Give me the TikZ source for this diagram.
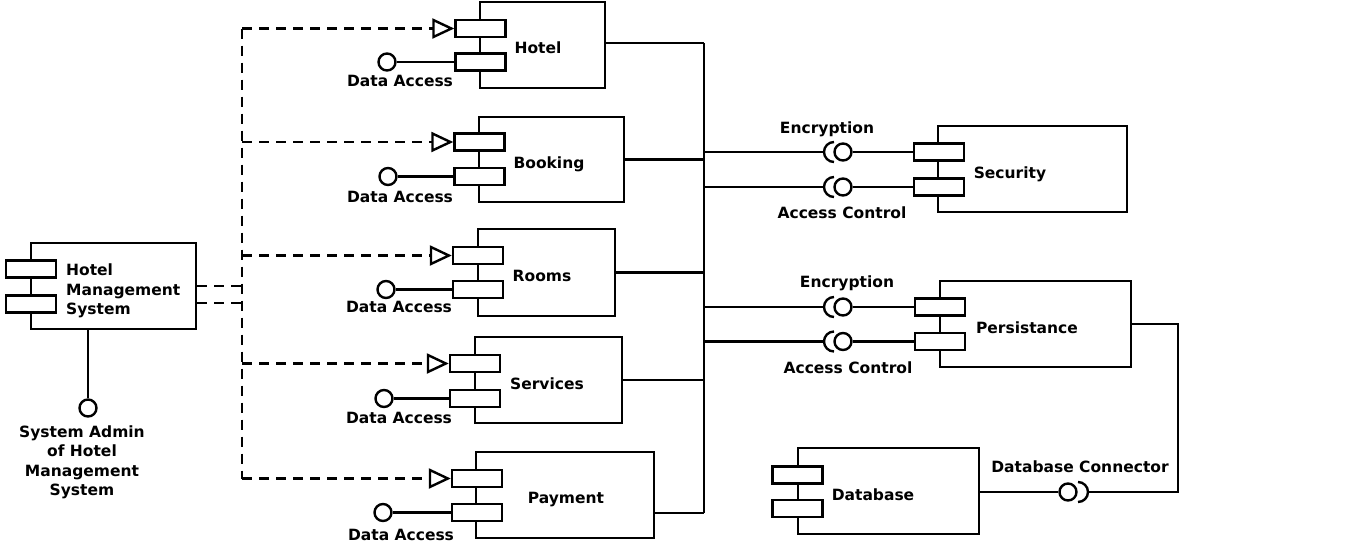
\documentclass[tikz,border=0pt]{standalone}
\usepackage{fontspec}
\setmainfont{DejaVu Sans}
\usetikzlibrary{arrows.meta}
\begin{document}
\begin{tikzpicture}[x=1pt,y=-1pt,
  every node/.style={font=\fontsize{15.5}{19.5}\selectfont\bfseries},
  comp/.style={draw, line width=2.4pt, inner sep=0pt, rectangle},
  port/.style={draw, line width=2.4pt, fill=white, minimum width=50pt, minimum height=17pt, inner sep=0pt},
  ball/.style={draw, line width=2.4pt, circle, minimum size=17pt, inner sep=0pt, fill=white},
  wire/.style={line width=2.4pt},
  dashwire/.style={line width=2.4pt, dash pattern=on 10pt off 7pt},
  dep/.style={dashwire, -{Triangle[open, length=22pt, width=20pt, line width=2.4pt]}},
  lbl/.style={inner sep=0pt, anchor=base},
]
\fill[white] (0,0) rectangle (1350,547);
\useasboundingbox (0,0) rectangle (1350,547);

% component boxes
\node[comp, minimum width=125pt, minimum height=86pt] (hotel) at (542.5,45) {};
\node[comp, minimum width=145pt, minimum height=85pt] (booking) at (551.5,159.5) {};
\node[comp, minimum width=137pt, minimum height=87pt] (rooms) at (546.5,272.5) {};
\node[comp, minimum width=147pt, minimum height=86pt] (services) at (548.5,380) {};
\node[comp, minimum width=178pt, minimum height=86pt] (payment) at (565,495) {};
\node[comp, minimum width=189pt, minimum height=86pt] (security) at (1032.5,169) {};
\node[comp, minimum width=191pt, minimum height=86pt] (persist) at (1035.5,324) {};
\node[comp, minimum width=181pt, minimum height=86pt] (database) at (888.5,491) {};
\node[comp, minimum width=165pt, minimum height=86pt] (hms) at (113.5,286) {};

% ports
\node[port] (hotelA) at (480.5,28.5) {};
\node[port] (hotelB) at (480.5,62) {};
\node[port] (bookingA) at (479.5,142) {};
\node[port] (bookingB) at (479.5,176.5) {};
\node[port] (roomsA) at (478,255.5) {};
\node[port] (roomsB) at (478,289.5) {};
\node[port] (servicesA) at (475,363.5) {};
\node[port] (servicesB) at (475,398.5) {};
\node[port] (paymentA) at (477,478.5) {};
\node[port] (paymentB) at (477,512.5) {};
\node[port] (securityA) at (939,152) {};
\node[port] (securityB) at (939,187) {};
\node[port] (persistA) at (940,307) {};
\node[port] (persistB) at (940,341.5) {};
\node[port] (databaseA) at (797.5,475) {};
\node[port] (databaseB) at (797.5,508.5) {};
\node[port] (hmsA) at (31,269) {};
\node[port] (hmsB) at (31,304) {};

% component names
\node[lbl] (hotelT) at (538,53.5) {Hotel};
\node[lbl] (bookingT) at (549,168.5) {Booking};
\node[lbl] (roomsT) at (542,281.5) {Rooms};
\node[lbl] (servicesT) at (547,389.5) {Services};
\node[lbl] (paymentT) at (566,503.5) {Payment};
\node[lbl] (securityT) at (1010,178.5) {Security};
\node[lbl] (persistT) at (1027,333.5) {Persistance};
\node[lbl] (databaseT) at (873,500.5) {Database};
\node[inner sep=0pt, anchor=west, align=left] (hmsT) at (66,291) {Hotel\\Management\\System};

% Data Access lollipops
\node[ball] (hotelDA) at (387,62) {};
\node[ball] (bookingDA) at (388,176.5) {};
\node[ball] (roomsDA) at (386,289.5) {};
\node[ball] (servicesDA) at (384,398.5) {};
\node[ball] (paymentDA) at (383,512.5) {};
\draw[wire] (hotelB.west) -- (hotelDA.east);
\draw[wire] (bookingB.west) -- (bookingDA.east);
\draw[wire] (roomsB.west) -- (roomsDA.east);
\draw[wire] (servicesB.west) -- (servicesDA.east);
\draw[wire] (paymentB.west) -- (paymentDA.east);
\node[lbl] (hotelDAT) at (400,86) {Data Access};
\node[lbl] (bookingDAT) at (400,202.5) {Data Access};
\node[lbl] (roomsDAT) at (399,312.5) {Data Access};
\node[lbl] (servicesDAT) at (399,423.5) {Data Access};
\node[lbl] (paymentDAT) at (401,540.5) {Data Access};

% dependencies from Hotel Management System
\coordinate (vtop) at (242,28.5);
\coordinate (vbot) at (242,478.5);
\coordinate (hmsout) at ([yshift=-17pt]hms.east);
\draw[dashwire] (vtop) -- (vbot);
\draw[dep] (vtop) -- (hotelA.west);
\draw[dep] (vtop |- bookingA) -- (bookingA.west);
\draw[dep] (vtop |- roomsA) -- (roomsA.west);
\draw[dep] (vtop |- servicesA) -- (servicesA.west);
\draw[dep] (vbot) -- (paymentA.west);
\draw[dashwire] (hms.east) -- (hms.east -| vtop);
\draw[dashwire] (hmsout) -- (hmsout -| vtop);

% system admin lollipop
\node[ball] (admin) at (88,408) {};
\draw[wire] (admin |- hms.south) -- (admin.north);
\node[inner sep=0pt, align=center] (adminT) at (82,462.5) {System Admin\\of Hotel\\Management\\System};

% right bus
\coordinate (bustop) at (704,43);
\coordinate (busbot) at (704,513);
\draw[wire] (bustop) -- (busbot);
\draw[wire] (hotel.east |- bustop) -- (bustop);
\draw[wire] (booking.east) -- (booking.east -| bustop);
\draw[wire] (rooms.east) -- (rooms.east -| bustop);
\draw[wire] (services.east) -- (services.east -| bustop);
\draw[wire] (payment.east |- busbot) -- (busbot);

% required / provided interfaces
\node[ball] (secEnc) at (843,152) {};
\node[ball] (secAcc) at (843,187) {};
\node[ball] (perEnc) at (843,307) {};
\node[ball] (perAcc) at (843,341.5) {};
\draw[wire] (secEnc.east) -- (securityA.west);
\draw[wire] (secAcc.east) -- (securityB.west);
\draw[wire] (perEnc.east) -- (persistA.west);
\draw[wire] (perAcc.east) -- (persistB.west);
\foreach \b in {secEnc,secAcc,perEnc,perAcc}{
  \draw[wire] (\b -| bustop) -- ([xshift=-19pt]\b.center);
  \draw[wire] ([xshift=-9pt,yshift=10pt]\b.center) arc[start angle=90, end angle=270, radius=10pt];
}
\node[lbl] (secEncT) at (827,133.5) {Encryption};
\node[lbl] (secAccT) at (842,218.5) {Access Control};
\node[lbl] (perEncT) at (847,287.5) {Encryption};
\node[lbl] (perAccT) at (848,373.5) {Access Control};

% database connector
\node[ball] (dbc) at (1068,492) {};
\coordinate (dbturn) at (1178,324);
\draw[wire] (database.east |- dbc) -- (dbc.west);
\draw[wire] ([xshift=10pt,yshift=10pt]dbc.center) arc[start angle=90, end angle=-90, radius=10pt];
\draw[wire] ([xshift=20pt]dbc.center) -- (dbc -| dbturn) -- (dbturn) -- (persist.east);
\node[lbl] (dbcT) at (1080,472.5) {Database Connector};
\end{tikzpicture}
\end{document}
